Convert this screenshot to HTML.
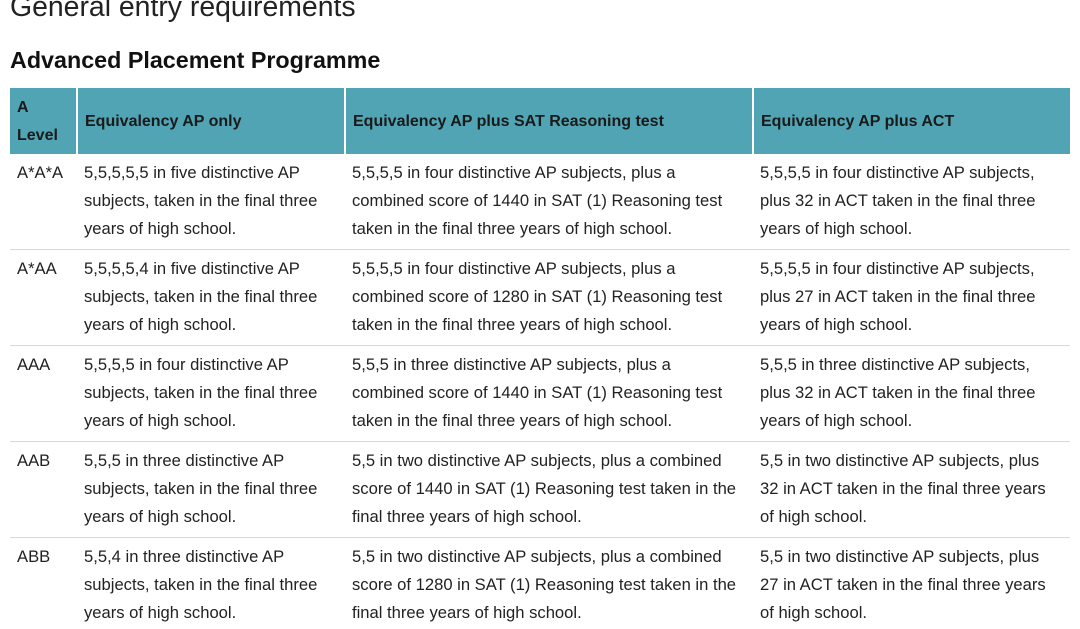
<!DOCTYPE html>
<html><head><meta charset="utf-8"><style>
body{margin:0;width:1080px;height:629px;overflow:hidden;background:#fff;font-family:"Liberation Sans",Arial,sans-serif;color:#1a1a1a;position:relative}
.t{position:absolute;left:10px;top:-9px;font-size:28.4px;color:#222;white-space:nowrap}
.h2{position:absolute;left:10px;top:47px;font-size:23.3px;font-weight:bold;color:#111;white-space:nowrap}
.hd{position:absolute;top:88px;height:66px;background:#50a4b4}
.hd span{position:absolute;left:7px;font-size:16px;font-weight:bold;color:#1a1a1a;line-height:28px}
.c{position:absolute;font-size:16.6px;line-height:28px;white-space:nowrap;color:#222}
.ln{position:absolute;left:10px;width:1060px;height:1px;background:#d8d8d8}
</style></head><body>
<div class="t">General entry requirements</div>
<div class="h2">Advanced Placement Programme</div>
<div class="hd" style="left:10px;width:66px"><span style="top:6px">A<br>Level</span></div>
<div class="hd" style="left:78px;width:266px"><span style="top:20px">Equivalency AP only</span></div>
<div class="hd" style="left:346px;width:406px"><span style="top:20px">Equivalency AP plus SAT Reasoning test</span></div>
<div class="hd" style="left:754px;width:316px"><span style="top:20px">Equivalency AP plus ACT</span></div>

<div class="ln" style="top:249px"></div>
<div class="ln" style="top:345px"></div>
<div class="ln" style="top:441px"></div>
<div class="ln" style="top:537px"></div>

<div class="c" style="left:17px;top:159px">A*A*A</div>
<div class="c" style="left:84px;top:159px">5,5,5,5,5 in five distinctive AP<br>subjects, taken in the final three<br>years of high school.</div>
<div class="c" style="left:352px;top:159px">5,5,5,5 in four distinctive AP subjects, plus a<br>combined score of 1440 in SAT (1) Reasoning test<br>taken in the final three years of high school.</div>
<div class="c" style="left:760px;top:159px">5,5,5,5 in four distinctive AP subjects,<br>plus 32 in ACT taken in the final three<br>years of high school.</div>

<div class="c" style="left:17px;top:255px">A*AA</div>
<div class="c" style="left:84px;top:255px">5,5,5,5,4 in five distinctive AP<br>subjects, taken in the final three<br>years of high school.</div>
<div class="c" style="left:352px;top:255px">5,5,5,5 in four distinctive AP subjects, plus a<br>combined score of 1280 in SAT (1) Reasoning test<br>taken in the final three years of high school.</div>
<div class="c" style="left:760px;top:255px">5,5,5,5 in four distinctive AP subjects,<br>plus 27 in ACT taken in the final three<br>years of high school.</div>

<div class="c" style="left:17px;top:351px">AAA</div>
<div class="c" style="left:84px;top:351px">5,5,5,5 in four distinctive AP<br>subjects, taken in the final three<br>years of high school.</div>
<div class="c" style="left:352px;top:351px">5,5,5 in three distinctive AP subjects, plus a<br>combined score of 1440 in SAT (1) Reasoning test<br>taken in the final three years of high school.</div>
<div class="c" style="left:760px;top:351px">5,5,5 in three distinctive AP subjects,<br>plus 32 in ACT taken in the final three<br>years of high school.</div>

<div class="c" style="left:17px;top:447px">AAB</div>
<div class="c" style="left:84px;top:447px">5,5,5 in three distinctive AP<br>subjects, taken in the final three<br>years of high school.</div>
<div class="c" style="left:352px;top:447px">5,5 in two distinctive AP subjects, plus a combined<br>score of 1440 in SAT (1) Reasoning test taken in the<br>final three years of high school.</div>
<div class="c" style="left:760px;top:447px">5,5 in two distinctive AP subjects, plus<br>32 in ACT taken in the final three years<br>of high school.</div>

<div class="c" style="left:17px;top:543px">ABB</div>
<div class="c" style="left:84px;top:543px">5,5,4 in three distinctive AP<br>subjects, taken in the final three<br>years of high school.</div>
<div class="c" style="left:352px;top:543px">5,5 in two distinctive AP subjects, plus a combined<br>score of 1280 in SAT (1) Reasoning test taken in the<br>final three years of high school.</div>
<div class="c" style="left:760px;top:543px">5,5 in two distinctive AP subjects, plus<br>27 in ACT taken in the final three years<br>of high school.</div>
</body></html>
